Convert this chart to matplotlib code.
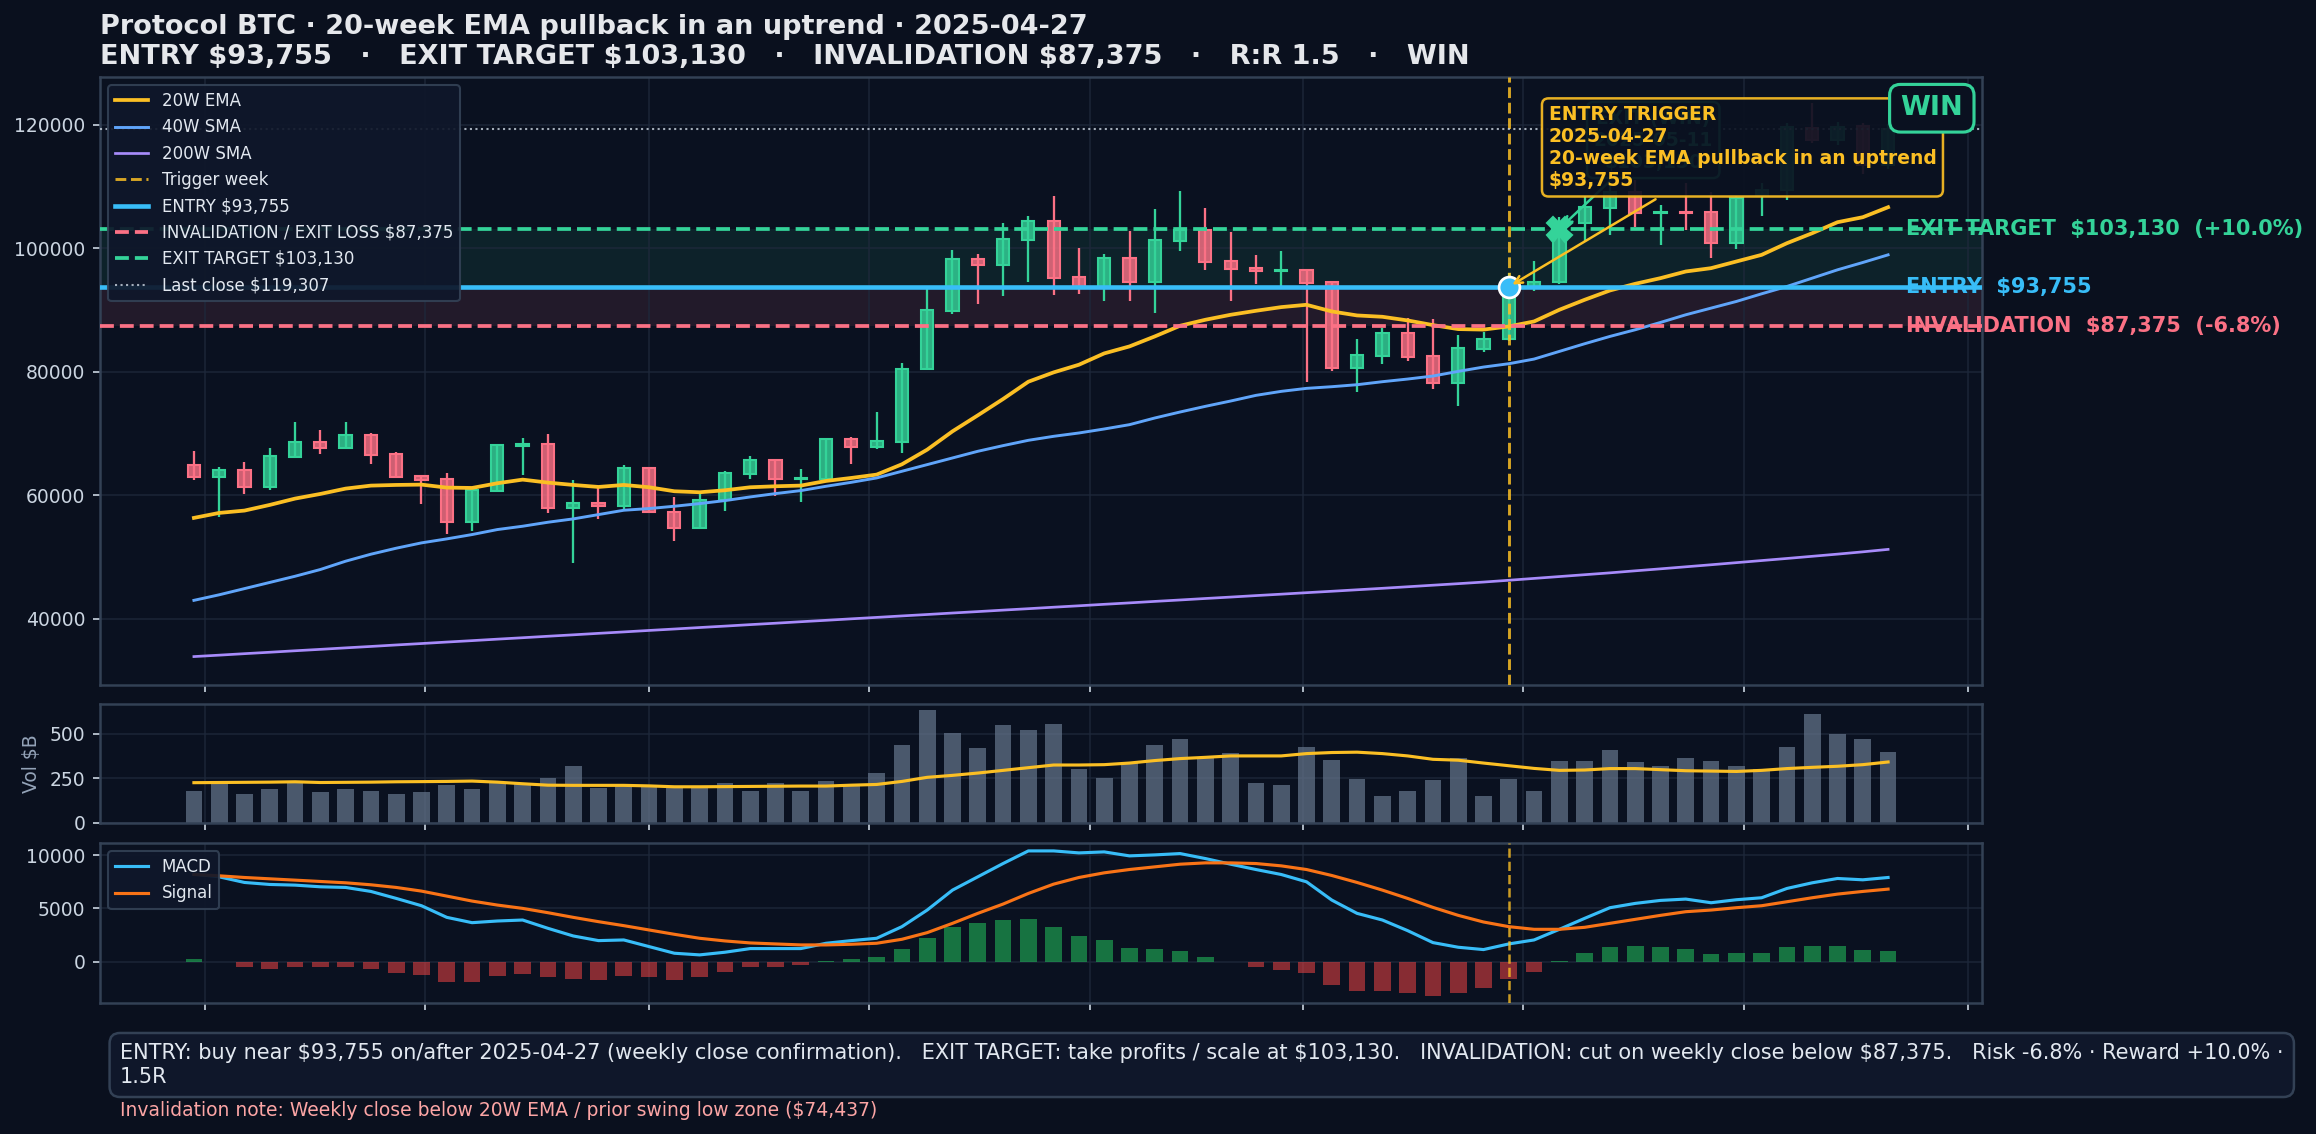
import numpy as np
import pandas as pd
import matplotlib
matplotlib.use("Agg")
import matplotlib.pyplot as plt
import matplotlib.dates as mdates
from matplotlib.colors import to_rgba
from matplotlib.ticker import FixedLocator, NullFormatter

plt.rcParams['text.parse_math'] = False  # lots of "$" in the labels

# ---------------------------------------------------------------- data
weeks = pd.date_range("2024-04-28", periods=68, freq="7D")

opens = [64911, 62971, 64103, 61354, 66205, 68630, 67660, 69761, 66690, 63133,
         62648, 55696, 60707, 67983, 68306, 57959, 58768, 58229, 64375, 57261,
         54728, 59201, 63512, 65668, 62650, 62650, 69117, 67824, 68632, 80434,
         89811, 98217, 97247, 101300, 104469, 95307, 93475, 98487, 94445, 101181,
         102906, 97894, 96800, 96277, 96439, 94445, 80542, 82535, 86254, 82535,
         78170, 83667, 85230, 93755, 94446, 104146, 106463, 109157, 105655, 105800,
         105800, 100912, 108619, 109427, 119397, 117510, 119700, 113500]
highs = [67228, 64588, 65450, 67660, 71917, 70623, 71917, 70138, 67067, 63200,
         63618, 60900, 68360, 69276, 69977, 62540, 61193, 64965, 64400, 59740,
         60279, 63943, 66422, 65700, 64321, 69278, 69440, 73536, 81404, 93691,
         99726, 99026, 104038, 105223, 108457, 100050, 99080, 102798, 106355, 109265,
         106517, 102636, 98918, 99565, 96700, 94550, 85338, 87116, 88733, 88517,
         85984, 86469, 95954, 97948, 105116, 108457, 110300, 111044, 107002, 110613,
         109050, 108400, 110505, 120205, 123438, 120474, 120300, 120100]
lows = [62432, 56450, 60169, 60816, 66100, 66636, 67550, 65019, 62900, 58552,
        53702, 54187, 60600, 63348, 57097, 49014, 56127, 57690, 57200, 52573,
        54567, 57423, 62596, 59848, 58878, 62600, 65129, 67500, 66800, 80400,
        89380, 90888, 92182, 94445, 92344, 92505, 91373, 91373, 89433, 99619,
        96385, 91373, 94230, 93529, 78278, 80057, 76661, 81188, 81673, 77146,
        74437, 83128, 84900, 92991, 94200, 101074, 102152, 103499, 100535, 102960,
        98487, 99835, 105224, 107810, 116970, 116700, 112000, 112800]
closes = [62971, 64103, 61354, 66366, 68630, 67660, 69761, 66528, 62971, 62486,
          55696, 60869, 68145, 68306, 57959, 58714, 58229, 64426, 57261, 54728,
          59201, 63566, 65668, 62650, 62800, 69117, 67824, 68739, 80488, 89918,
          98217, 97247, 101451, 104469, 95146, 93475, 98487, 94445, 101289, 102906,
          97679, 96601, 96277, 96500, 94284, 80542, 82697, 86254, 82374, 78170,
          83829, 85230, 93755, 94446, 104100, 106625, 109150, 105655, 105800, 105655,
          100912, 108080, 109427, 119666, 117510, 119666, 113500, 119307]

ema20 = [56343, 57151, 57529, 58445, 59468, 60222, 61085, 61570, 61678, 61731,
         61246, 61192, 61952, 62540, 62055, 61678, 61354, 61680, 61302, 60656,
         60494, 60817, 61302, 61464, 61572, 62326, 62811, 63350, 65021, 67392,
         70356, 72940, 75584, 78386, 79895, 81134, 82967, 84098, 85715, 87440,
         88410, 89218, 89864, 90457, 90834, 89757, 89110, 88894, 88301, 87547,
         86900, 86820, 87332, 88140, 90027, 91643, 93152, 94230, 95146, 96224,
         96763, 97841, 98918, 100805, 102421, 104200, 105008, 106625]
sma40 = [43000, 43900, 44900, 45900, 46900, 47990, 49337, 50469, 51438, 52301,
         52947, 53648, 54457, 54995, 55642, 56181, 56881, 57582, 57856, 58231,
         58660, 59146, 59737, 60278, 60763, 61464, 62104, 62811, 63890, 64968,
         66045, 67123, 68040, 68902, 69548, 70087, 70733, 71434, 72512, 73482,
         74398, 75260, 76176, 76823, 77308, 77577, 77900, 78386, 78817, 79302,
         80056, 80756, 81296, 82050, 83290, 84530, 85715, 86793, 87979, 89218,
         90296, 91373, 92613, 93799, 95146, 96493, 97679, 98918]
sma200 = [33900, 34130, 34370, 34600, 34840, 35070, 35310, 35540, 35780, 36010,
          36250, 36480, 36720, 36950, 37190, 37420, 37660, 37890, 38130, 38360,
          38600, 38830, 39070, 39300, 39540, 39770, 40010, 40240, 40480, 40710,
          40950, 41180, 41420, 41650, 41890, 42120, 42360, 42590, 42830, 43060,
          43300, 43530, 43770, 44000, 44240, 44470, 44710, 44950, 45200, 45450,
          45700, 45960, 46250, 46550, 46850, 47150, 47450, 47780, 48100, 48430,
          48760, 49100, 49440, 49780, 50130, 50480, 50850, 51250]

volume = [177, 216, 160, 188, 226, 171, 188, 177, 160, 171,
          211, 188, 226, 216, 250, 318, 194, 207, 201, 201,
          201, 222, 182, 222, 182, 233, 207, 278, 436, 633,
          504, 419, 549, 521, 555, 301, 250, 340, 436, 470,
          363, 391, 227, 211, 425, 352, 244, 154, 182, 239,
          363, 154, 244, 177, 346, 346, 408, 340, 318, 363,
          346, 318, 301, 425, 611, 498, 470, 397]
vol_ma = [226, 227, 228, 229, 231, 227, 228, 229, 231, 232,
          233, 235, 229, 220, 212, 211, 211, 211, 208, 203,
          203, 204, 205, 206, 207, 207, 212, 216, 233, 256,
          267, 280, 295, 310, 325, 325, 327, 336, 350, 361,
          368, 376, 376, 376, 389, 395, 397, 389, 376, 357,
          352, 336, 321, 306, 295, 297, 305, 305, 299, 293,
          291, 289, 295, 305, 312, 318, 327, 342]

macd = [8219, 7969, 7438, 7250, 7188, 7031, 6969, 6594, 5938, 5250,
        4156, 3656, 3813, 3906, 3125, 2406, 1969, 2031, 1406, 781,
        625, 875, 1219, 1219, 1219, 1719, 1969, 2188, 3281, 4844,
        6719, 7969, 9219, 10406, 10406, 10219, 10313, 9938, 10031, 10156,
        9688, 9156, 8656, 8188, 7500, 5781, 4531, 3906, 2906, 1781,
        1344, 1125, 1656, 2031, 3031, 4063, 5063, 5469, 5750, 5875,
        5531, 5813, 6000, 6875, 7406, 7813, 7688, 7906]
signal = [8188, 8063, 7906, 7781, 7656, 7531, 7406, 7219, 6969, 6625,
          6156, 5688, 5313, 5000, 4594, 4156, 3750, 3375, 2969, 2563,
          2188, 1938, 1750, 1656, 1563, 1563, 1625, 1719, 2094, 2719,
          3594, 4531, 5406, 6406, 7281, 7906, 8344, 8656, 8906, 9156,
          9281, 9281, 9219, 9000, 8656, 8094, 7438, 6719, 5938, 5094,
          4344, 3719, 3281, 3031, 3031, 3219, 3594, 3969, 4344, 4688,
          4844, 5063, 5250, 5625, 6000, 6344, 6594, 6813]
hist = [250, -50, -531, -656, -531, -531, -531, -719, -1094, -1281,
        -1969, -1969, -1406, -1156, -1500, -1688, -1781, -1406, -1500, -1781,
        -1500, -1031, -531, -469, -344, 40, 250, 438, 1188, 2188,
        3250, 3625, 3906, 4000, 3250, 2406, 2031, 1281, 1188, 1000,
        438, 0, -469, -750, -1125, -2250, -2813, -2813, -3000, -3281,
        -3000, -2531, -1688, -1031, 63, 813, 1375, 1469, 1375, 1188,
        719, 813, 813, 1375, 1469, 1469, 1094, 1000]

entry_price = 93755
target_price = 103130
stop_price = 87375
last_close = 119307
trigger_day = pd.Timestamp("2025-04-27")
exit_day = pd.Timestamp("2025-05-11")

# ---------------------------------------------------------------- colours
BG = '#0a101e'
AX_BG = '#0a1120'
GRID = '#1e293b'
SPINE = '#334155'
TXT = '#e5e7eb'
TICK = '#cbd5e1'
UP = '#34d399'
DN = '#fb7185'
AMBER = '#fbbf24'
SKY = '#38bdf8'

x = mdates.date2num(weeks)
o = np.array(opens, float)
h = np.array(highs, float)
l = np.array(lows, float)
c = np.array(closes, float)
x_trig = mdates.date2num(trigger_day)
x_exit = mdates.date2num(exit_day)

fig = plt.figure(figsize=(15.44, 7.56), dpi=150, facecolor=BG)
W, H = 2316.0, 1134.0


def rect(left, top, right, bottom):
    return [left / W, 1 - bottom / H, (right - left) / W, (bottom - top) / H]


ax = fig.add_axes(rect(100, 77, 1982, 685))
ax_v = fig.add_axes(rect(100, 704, 1982, 823), sharex=ax)
ax_m = fig.add_axes(rect(100, 843, 1982, 1003), sharex=ax)

for a in (ax, ax_v, ax_m):
    a.set_facecolor(AX_BG)
    for s in a.spines.values():
        s.set_color(SPINE)
        s.set_linewidth(1.2)
    a.grid(True, color=GRID, lw=0.8, alpha=0.8)
    a.tick_params(colors=TICK, labelsize=9)
    a.xaxis.set_major_locator(mdates.MonthLocator(bymonth=[1, 3, 5, 7, 9, 11]))
    a.xaxis.set_major_formatter(NullFormatter())

# ---------------------------------------------------------------- price panel
ax.axhspan(entry_price, target_price, color=UP, alpha=0.09, lw=0, zorder=1)
ax.axhspan(stop_price, entry_price, color=DN, alpha=0.10, lw=0, zorder=1)

cols = np.where(c >= o, UP, DN)
ax.vlines(x, l, h, colors=cols, lw=1.1, zorder=3)
ax.bar(x, np.maximum(np.abs(c - o), 150), bottom=np.minimum(o, c), width=3.4,
       color=[to_rgba(cc, 0.82) for cc in cols], edgecolor=cols, linewidth=1.0, zorder=4)

ax.plot(x, ema20, color=AMBER, lw=1.8, label='20W EMA', zorder=5)
ax.plot(x, sma40, color='#60a5fa', lw=1.4, label='40W SMA', zorder=5)
ax.plot(x, sma200, color='#a78bfa', lw=1.3, label='200W SMA', zorder=5)
ax.axvline(x_trig, color=AMBER, ls='--', lw=1.4, alpha=0.85, label='Trigger week', zorder=5)
ax.axhline(entry_price, color=SKY, lw=2.2, label=f'ENTRY ${entry_price:,}', zorder=5)
ax.axhline(stop_price, color=DN, ls='--', lw=1.8, label=f'INVALIDATION / EXIT LOSS ${stop_price:,}', zorder=5)
ax.axhline(target_price, color=UP, ls='--', lw=1.8, label=f'EXIT TARGET ${target_price:,}', zorder=5)
ax.axhline(last_close, color=TICK, ls=':', lw=1.0, alpha=0.8, label=f'Last close ${last_close:,}', zorder=5)

ax.plot([x_trig], [entry_price], 'o', ms=10, mfc=SKY, mec='white', mew=1.3, zorder=7)
ax.plot([x_exit], [target_price], 'X', ms=12, color=UP, zorder=7)

# exit annotation sits underneath the entry box
ax.annotate(f"EXIT (WIN)\n{exit_day:%Y-%m-%d}\n${target_price:,}",
            xy=(x_exit, target_price), xytext=(x_exit + 26, 117500),
            ha='center', va='center', fontsize=9, fontweight='bold', color=UP,
            bbox=dict(boxstyle='round,pad=0.35', fc=AX_BG, ec=UP, lw=1.2, alpha=0.9),
            arrowprops=dict(arrowstyle='->', color=UP, lw=1.2), zorder=8)
ax.annotate(f"ENTRY TRIGGER\n{trigger_day:%Y-%m-%d}\n20-week EMA pullback in an uptrend\n${entry_price:,}",
            xy=(x_trig, entry_price), xytext=(x_trig + 11, 116300),
            ha='left', va='center', fontsize=9, fontweight='bold', color=AMBER,
            bbox=dict(boxstyle='round,pad=0.35', fc=AX_BG, ec=AMBER, lw=1.2, alpha=0.92),
            arrowprops=dict(arrowstyle='->', color=AMBER, lw=1.2), zorder=9)

ax.text(0.99, 0.97, "WIN", transform=ax.transAxes, ha='right', va='top', fontsize=13,
        fontweight='bold', color=UP, zorder=10,
        bbox=dict(boxstyle='round,pad=0.4', fc=AX_BG, ec=UP, lw=1.5))

x_lab = x[-1] + 5
ax.text(x_lab, target_price, f"EXIT TARGET  ${target_price:,}  (+10.0%)", color=UP,
        fontsize=10, fontweight='bold', va='center', ha='left', clip_on=False, zorder=10)
ax.text(x_lab, entry_price, f"ENTRY  ${entry_price:,}", color=SKY,
        fontsize=10, fontweight='bold', va='center', ha='left', clip_on=False, zorder=10)
ax.text(x_lab, stop_price, f"INVALIDATION  ${stop_price:,}  (-6.8%)", color=DN,
        fontsize=10, fontweight='bold', va='center', ha='left', clip_on=False, zorder=10)

ax.set_xlim(x[0] - 26, x[-1] + 26)
ax.set_ylim(29300, 127700)
ax.yaxis.set_major_locator(FixedLocator([40000, 60000, 80000, 100000, 120000]))
ax.tick_params(axis='x', labelbottom=False)

leg = ax.legend(loc='upper left', fontsize=8, facecolor='#0f172a', edgecolor=SPINE,
                framealpha=0.92, labelcolor='#e2e8f0')
leg.set_zorder(11)

ax.set_title("Protocol BTC · 20-week EMA pullback in an uptrend · 2025-04-27\n"
             f"ENTRY ${entry_price:,}   ·   EXIT TARGET ${target_price:,}   ·   "
             f"INVALIDATION ${stop_price:,}   ·   R:R 1.5   ·   WIN",
             loc='left', fontsize=13, fontweight='bold', color=TXT, pad=6)

# ---------------------------------------------------------------- volume panel
ax_v.bar(x, volume, width=4.6, color='#64748b', alpha=0.72, zorder=2)
ax_v.plot(x, vol_ma, color=AMBER, lw=1.5, zorder=3)
ax_v.set_ylim(0, 667)
ax_v.yaxis.set_major_locator(FixedLocator([0, 250, 500]))
ax_v.set_ylabel("Vol $B", color='#94a3b8', fontsize=9)
ax_v.tick_params(axis='x', labelbottom=False)

# ---------------------------------------------------------------- MACD panel
hcols = ['#22c55e' if v >= 0 else '#ef4444' for v in hist]
ax_m.bar(x, hist, width=4.6, color=hcols, alpha=0.55, zorder=2)
ax_m.plot(x, macd, color=SKY, lw=1.5, label='MACD', zorder=3)
ax_m.plot(x, signal, color='#f97316', lw=1.5, label='Signal', zorder=3)
ax_m.axvline(x_trig, color=AMBER, ls='--', lw=1.2, alpha=0.8, zorder=4)
ax_m.set_ylim(-3900, 11150)
ax_m.yaxis.set_major_locator(FixedLocator([0, 5000, 10000]))
ax_m.legend(loc='upper left', fontsize=8, facecolor='#0f172a', edgecolor=SPINE,
            framealpha=0.92, labelcolor='#e2e8f0')

# ---------------------------------------------------------------- footer
footer = (f"ENTRY: buy near ${entry_price:,} on/after {trigger_day:%Y-%m-%d} (weekly close confirmation).   "
          f"EXIT TARGET: take profits / scale at ${target_price:,}.   "
          f"INVALIDATION: cut on weekly close below ${stop_price:,}.   "
          "Risk -6.8% · Reward +10.0% ·\n1.5R")
fig.text(120 / W, 1 - 1065 / H, footer, fontsize=10, color='#e2e8f0', ha='left', va='center',
         bbox=dict(boxstyle='round,pad=0.5', fc='#0f172a', ec=SPINE, lw=1.2))
fig.text(120 / W, 1 - 1110 / H,
         "Invalidation note: Weekly close below 20W EMA / prior swing low zone ($74,437)",
         fontsize=9, color='#fca5a5', ha='left', va='center')

fig.savefig("out.png", dpi=150, facecolor=BG)
